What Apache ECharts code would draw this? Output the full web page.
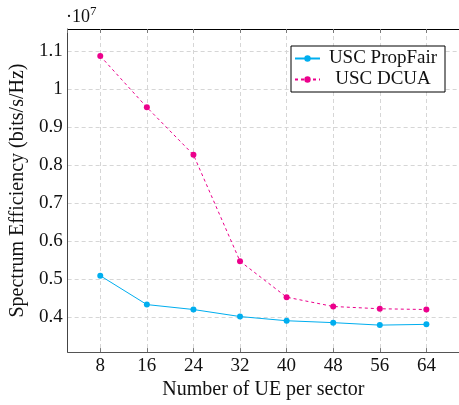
<!DOCTYPE html>
<html>
<head>
<meta charset="utf-8">
<script src="https://cdn.jsdelivr.net/npm/echarts@6/dist/echarts.min.js"></script>
<style>
html,body{margin:0;padding:0;background:#fff;}
#chart{width:459px;height:405px;}
</style>
</head>
<body>
<div id="chart"></div>
<script>
// Data
var ueCounts = [8, 16, 24, 32, 40, 48, 56, 64];
var propFair = [5090000, 4330000, 4200000, 4015000, 3905000, 3855000, 3790000, 3810000];
var dcua = [10870000, 9520000, 8270000, 5470000, 4525000, 4280000, 4220000, 4200000];
var seriesNames = ['USC PropFair', 'USC DCUA'];
var xLabel = 'Number of UE per sector';
var yLabel = 'Spectrum Efficiency (bits/s/Hz)';

var FONT = '"Liberation Serif", "DejaVu Serif", serif';
var blue = '#00AEEF';
var pink = '#EC008C';

function pairs(xs, ys) { return xs.map(function (x, i) { return [x, ys[i]]; }); }

var chart = echarts.init(document.getElementById('chart'), null, {renderer: 'canvas'});
var gridLine = {show: true, lineStyle: {color: '#d6d6d6', type: [4, 3], width: 1}};
chart.setOption({
  backgroundColor: '#fff',
  animation: false,
  textStyle: {fontFamily: FONT, color: '#111'},
  grid: {left: 65, top: 29, right: -5, bottom: 40, containLabel: false},
  graphic: [{
    type: 'text', left: 66, top: 5,
    style: {
      text: '{a|·10}{b|7}',
      rich: {
        a: {fontFamily: FONT, fontSize: 18, fill: '#111', verticalAlign: 'bottom'},
        b: {fontFamily: FONT, fontSize: 13, fill: '#111', verticalAlign: 'top', padding: [0, 0, 8, 0]}
      }
    }
  }],
  legend: {
    orient: 'vertical', left: 291, top: 46,
    padding: [3, 4, 3, 3], itemGap: 2,
    itemWidth: 25, itemHeight: 8,
    borderColor: '#000', borderWidth: 1, backgroundColor: '#fff',
    data: seriesNames,
    formatter: function (n) { return '{c|' + n + '}'; },
    textStyle: {
      fontFamily: FONT, fontSize: 19, color: '#111',
      rich: {c: {fontFamily: FONT, fontSize: 19, width: 116, align: 'center', lineHeight: 19}}
    }
  },
  xAxis: [{
    type: 'value', min: 2.4, max: 69.6, minInterval: 8, maxInterval: 8,
    position: 'bottom',
    name: xLabel, nameLocation: 'middle', nameGap: 22,
    nameTextStyle: {fontFamily: FONT, fontSize: 20, color: '#111'},
    axisLine: {show: true, lineStyle: {color: '#555', width: 1}},
    axisTick: {show: true, inside: true, length: 4, lineStyle: {color: '#777'}},
    axisLabel: {fontFamily: FONT, fontSize: 19, color: '#111', margin: 4, showMinLabel: false, showMaxLabel: false},
    splitLine: gridLine
  }, {
    type: 'value', min: 2.4, max: 69.6, minInterval: 8, maxInterval: 8,
    position: 'top',
    axisLine: {show: true, lineStyle: {color: '#000', width: 1}},
    axisTick: {show: true, inside: true, length: 4, lineStyle: {color: '#777'}},
    axisLabel: {show: false},
    splitLine: {show: false}
  }],
  yAxis: [{
    type: 'value', min: 3080000, max: 11580000, minInterval: 1000000, maxInterval: 1000000,
    name: yLabel, nameLocation: 'middle', nameGap: 37, nameRotate: 90,
    nameTextStyle: {fontFamily: FONT, fontSize: 20, color: '#111'},
    axisLine: {show: true, lineStyle: {color: '#444', width: 1}},
    axisTick: {show: false},
    axisLabel: {
      fontFamily: FONT, fontSize: 19, color: '#111', margin: 5,
      showMinLabel: false, showMaxLabel: false,
      formatter: function (v) { return String(Math.round(v / 1e6) / 10); }
    },
    splitLine: gridLine
  }],
  series: [{
    name: seriesNames[0], type: 'line', xAxisIndex: 0,
    data: pairs(ueCounts, propFair),
    symbol: 'circle', symbolSize: 6,
    itemStyle: {color: blue},
    lineStyle: {color: blue, width: 1}
  }, {
    name: seriesNames[1], type: 'line', xAxisIndex: 0,
    data: pairs(ueCounts, dcua),
    symbol: 'circle', symbolSize: 6,
    itemStyle: {color: pink},
    lineStyle: {color: pink, width: 1, type: [3, 3]}
  }]
});
</script>
</body>
</html>
